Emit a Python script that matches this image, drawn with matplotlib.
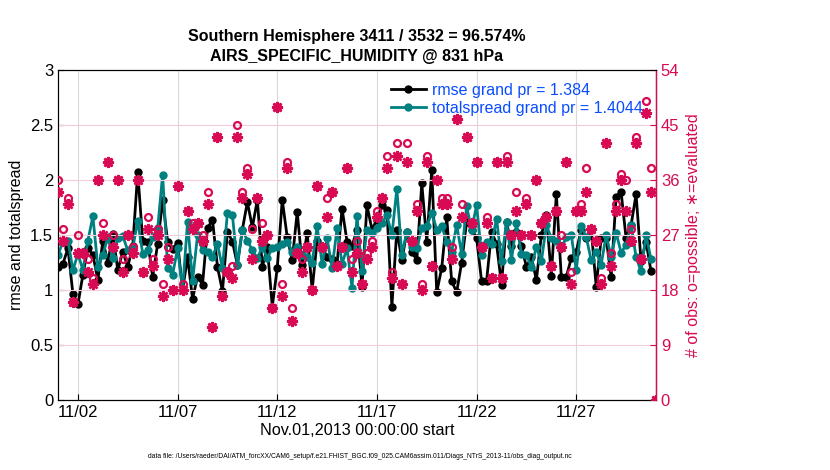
import matplotlib
matplotlib.use("Agg")
import matplotlib.pyplot as plt
import matplotlib.dates as mdates
import numpy as np
import pandas as pd

plt.rcParams['font.family'] = ['Liberation Sans', 'DejaVu Sans']

# ---------------- data (6-hourly, Nov 1 00Z .. Dec 1 00Z) ----------------
start = "2013-11-01 00:00"
n_times = 121

rmse = [1.21, 1.24, 1.38, 0.96, 0.87, 1.14, 1.38, 1.32, 1.09, 1.45,
        1.25, 1.51, 1.18, 1.35, 1.21, 1.40, 2.07, 1.45, 1.44, 1.12,
        1.42, 1.82, 1.44, 1.37, 1.43, 1.00, 1.30, 0.92, 1.12, 1.05,
        1.56, 1.64, 1.21, 0.99, 1.53, 1.44, 1.23, 1.55, 1.80, 1.57,
        1.82, 1.21, 1.39, 0.85, 1.20, 1.82, 1.48, 1.27, 1.71, 1.23,
        1.52, 1.00, 1.45, 1.39, 1.30, 1.28, 1.24, 1.74, 1.44, 1.40,
        1.55, 1.03, 1.77, 1.55, 1.64, 1.77, 1.73, 0.85, 1.55, 1.27,
        1.53, 1.35, 1.27, 1.97, 1.44, 2.09, 0.98, 1.20, 1.66, 1.08,
        0.98, 1.25, 1.62, 1.55, 1.47, 1.08, 1.08, 1.53, 1.42, 1.05,
        1.62, 1.40, 1.53, 1.40, 1.21, 1.30, 1.09, 1.50, 1.68, 1.13,
        1.87, 1.12, 1.12, 1.29, 1.35, 1.55, 1.47, 1.55, 1.03, 1.47,
        1.47, 1.12, 1.85, 1.89, 1.47, 1.59, 1.87, 1.26, 1.44, 1.17, np.nan]

spread = [1.32, 1.44, 1.45, 1.18, 1.33, 1.18, 1.45, 1.67, 1.21, 1.32,
          1.48, 1.29, 1.47, 1.49, 1.36, 1.38, 1.63, 1.33, 1.36, 1.48,
          1.56, 2.05, 1.20, 1.14, 1.38, 1.00, 1.62, 1.08, 1.50, 1.36,
          1.35, 1.30, 1.42, 1.20, 1.70, 1.68, 1.23, 1.55, 1.45, 1.36,
          1.29, 1.39, 1.29, 1.38, 1.39, 1.42, 1.44, 1.35, 1.39, 1.32,
          1.30, 1.25, 1.58, 1.24, 1.47, 1.20, 1.56, 1.24, 1.38, 1.02,
          1.67, 1.17, 1.55, 1.52, 1.56, 1.61, 1.68, 1.50, 1.92, 1.32,
          1.53, 1.39, 1.38, 1.56, 1.58, 1.70, 1.55, 1.58, 1.44, 1.35,
          1.59, 1.33, 1.76, 1.55, 1.77, 1.32, 1.44, 1.42, 1.65, 1.26,
          1.62, 1.27, 1.61, 1.33, 1.32, 1.21, 1.39, 1.26, 1.59, 1.47,
          1.45, 1.38, 1.48, 1.50, 1.18, 1.58, 1.48, 1.27, 1.35, 1.23,
          1.50, 1.30, 1.52, 1.34, 1.41, 1.59, 1.30, 1.17, 1.50, 1.28, np.nan]

nposs = [36, 28, 33, 16, 27, 24, 23, 20, 36, 29,
         39, 27, 36, 23, 27, 25, 36, 21, 30, 23,
         28, 19, 25, 18, 35, 19, 31, 29, 29, 27,
         34, 12, 43, 17, 21, 22, 45, 34, 38, 28,
         33, 29, 27, 15, 48, 19, 39, 15, 24, 23,
         25, 18, 35, 25, 33, 34, 22, 25, 38, 23,
         26, 19, 24, 26, 31, 33, 40, 21, 42, 19,
         42, 26, 32, 19, 40, 22, 36, 33, 33, 25,
         46, 32, 43, 29, 39, 25, 30, 20, 39, 20,
         40, 27, 34, 27, 33, 27, 36, 29, 30, 22,
         31, 27, 39, 21, 31, 32, 38, 28, 26, 20,
         42, 24, 32, 37, 36, 28, 43, 23, 49, 38, 0]

nused = [34, 26, 32, 16, 24, 24, 21, 19, 36, 27,
         39, 25, 36, 21, 27, 24, 36, 21, 28, 22,
         27, 17, 23, 18, 35, 18, 31, 28, 29, 26,
         32, 12, 43, 17, 21, 20, 43, 33, 37, 23,
         33, 26, 27, 15, 48, 17, 38, 13, 24, 21,
         25, 18, 35, 25, 30, 34, 22, 25, 38, 21,
         24, 19, 23, 25, 30, 33, 38, 20, 40, 19,
         39, 26, 31, 18, 39, 22, 36, 32, 32, 23,
         46, 30, 43, 29, 39, 25, 29, 20, 39, 20,
         39, 27, 31, 27, 32, 27, 36, 29, 30, 22,
         31, 25, 39, 19, 31, 31, 34, 28, 26, 19,
         42, 22, 31, 36, 31, 26, 42, 23, 47, 34, 0]

xtick_dates = ["2013-11-02", "2013-11-07", "2013-11-12", "2013-11-17",
               "2013-11-22", "2013-11-27"]

title1 = "Southern Hemisphere 3411 / 3532 = 96.574%"
title2 = "AIRS_SPECIFIC_HUMIDITY @ 831 hPa"
leg_rmse = "rmse grand pr = 1.384"
leg_spread = "totalspread grand pr = 1.4044"
footer = ("data file: /Users/raeder/DAI/ATM_forcXX/CAM6_setup/f.e21.FHIST_BGC.f09_025."
          "CAM6assim.011/Diags_NTrS_2013-11/obs_diag_output.nc")

# ---------------- styling ----------------
obs_color = (215/255, 10/255, 83/255)
sprd_color = (0, 128/255, 128/255)
leg_text_color = '#0a4dff'

times = pd.date_range(start, periods=n_times, freq="6h")

fig = plt.figure(figsize=(8.3, 4.7), dpi=100)
ax = fig.add_axes([58/830, 70/470, 598/830, 330/470])
ax2 = ax.twinx()

l1, = ax.plot(times, rmse, '-o', color='k', lw=2, ms=5, mfc='k', mec='k', zorder=3)
l2, = ax.plot(times, spread, '-o', color=sprd_color, lw=2, ms=5,
              mfc=sprd_color, mec=sprd_color, zorder=3)

ax.set_ylim(0, 3)
ax.set_yticks([0, 0.5, 1, 1.5, 2, 2.5, 3])
ax.set_yticklabels(['0', '0.5', '1', '1.5', '2', '2.5', '3'])
ax.set_xlim(pd.Timestamp("2013-11-01 00:00"), pd.Timestamp("2013-12-01 00:00"))
ax.set_xticks(pd.to_datetime(xtick_dates))
ax.xaxis.set_major_formatter(mdates.DateFormatter('%m/%d'))
ax.grid(axis='x', color='#d9d9d9', lw=0.8)
ax.set_axisbelow(True)
ax.tick_params(direction='in', labelsize=12, length=4)
ax.set_ylabel("rmse and totalspread", fontsize=11.5, labelpad=4)
ax.set_xlabel("Nov.01,2013 00:00:00 start", fontsize=11.7, labelpad=2)

ax2.plot(times, nposs, 'o', ls='none', mfc='none', mec=obs_color, ms=5, mew=1.6, zorder=4)
ax2.plot(times, nused, marker=(8, 2, 0), ls='none', color=obs_color, mec=obs_color,
         ms=8, mew=1.8, zorder=4)
ax2.set_ylim(0, 54)
ax2.set_yticks(np.arange(0, 55, 9))
ax2.grid(axis='y', color=(0.96, 0.80, 0.86), lw=0.8)
ax2.tick_params(direction='in', labelsize=12, length=4, colors=obs_color)
ax2.spines['right'].set_color(obs_color)
ax2.set_ylabel("# of obs: o=possible; \u2217=evaluated", color=obs_color, fontsize=11.5,
               labelpad=5)

for a in (ax, ax2):
    a.spines['top'].set_linewidth(0.8)
    a.spines['left'].set_linewidth(0.8)
    a.spines['bottom'].set_linewidth(0.8)
ax2.spines['right'].set_linewidth(1.0)

leg = ax2.legend([l1, l2], [leg_rmse, leg_spread], loc='upper left',
                 bbox_to_anchor=(0.54, 0.99), frameon=False, fontsize=11.5,
                 handlelength=2.2, handletextpad=0.4, borderaxespad=0.2,
                 labelspacing=0.2)
for t in leg.get_texts():
    t.set_color(leg_text_color)

fig.text(357/830, 1 - 37/470, title1, ha='center', va='center', fontsize=11.5,
         fontweight='bold')
fig.text(357/830, 1 - 57/470, title2, ha='center', va='center', fontsize=11.5,
         fontweight='bold')
fig.text(360/830, 1 - 456/470, footer, ha='center', va='center', fontsize=4.9)

fig.savefig("out.png", dpi=100)
